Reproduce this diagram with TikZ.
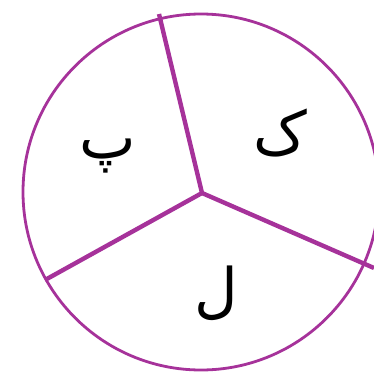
\documentclass[tikz,border=0pt]{standalone}
\usepackage{fontspec}
\newfontfamily\arabicfont[Script=Arabic]{DejaVu Sans}
\TeXXeTstate=1
\definecolor{rim}{RGB}{166,50,154}
\begin{document}
\begin{tikzpicture}[
  rimline/.style={draw=rim,line width=2.8pt},
  spoke/.style={draw=rim,line width=4.4pt},
  letter/.style={font=\arabicfont\fontsize{60}{70}\selectfont,text=black,inner sep=0pt}]
\useasboundingbox (0pt,0pt) rectangle (374pt,-375pt);
\coordinate (c) at (202pt,-193pt);
\coordinate (top) at (159pt,-14pt);
\coordinate (left) at (45pt,-280pt);
\coordinate (right) at (374pt,-268pt);
\draw[rimline] (201pt,-192pt) circle [radius=178pt];
\draw[spoke,line join=round] (top) -- (c) -- (right);
\draw[spoke] (c) -- (left);
\node[letter] (pe) at (108pt,-156pt) {\beginR پ\endR};
\node[letter] (kaf) at (280pt,-133pt) {\beginR ک\endR};
\node[letter] (lam) at (216pt,-293pt) {\beginR ل\endR};
\end{tikzpicture}
\end{document}
